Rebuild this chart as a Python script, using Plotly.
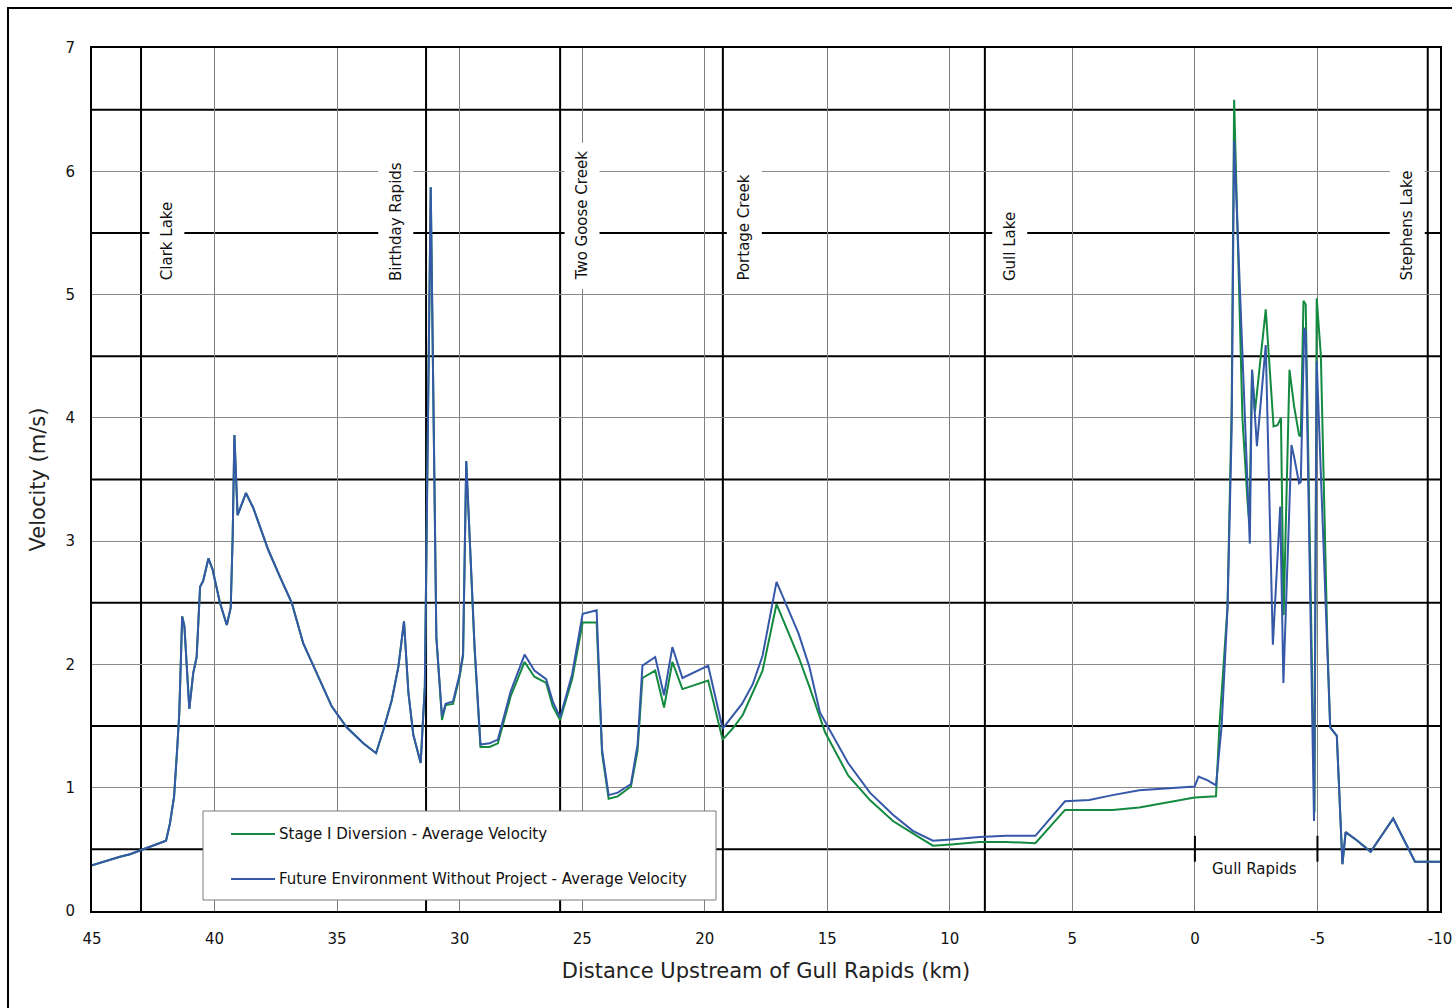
import plotly.graph_objects as go

# ---- Velocity profiles along the river (distance upstream of Gull Rapids, km) ----
future_km = [45.0, 44.4, 43.86, 43.45, 42.9, 41.98, 41.82, 41.65, 41.52, 41.44,
             41.32, 41.23, 41.03, 40.87, 40.73, 40.59, 40.46, 40.25, 40.08, 39.78,
             39.5, 39.34, 39.26, 39.19, 39.06, 38.72, 38.42, 38.15, 37.81, 37.33,
             36.85, 36.38, 35.83, 35.22, 34.61, 33.93, 33.41, 33.11, 32.77, 32.5,
             32.27, 32.09, 31.89, 31.59, 31.42, 31.18, 30.95, 30.72, 30.57, 30.27,
             30.0, 29.86, 29.73, 29.39, 29.15, 28.78, 28.44, 27.92, 27.35, 26.95,
             26.47, 26.2, 25.9, 25.41, 24.98, 24.41, 24.19, 23.92, 23.55, 23.01,
             22.74, 22.54, 22.02, 21.66, 21.32, 20.91, 19.86, 19.27, 18.48, 18.04,
             17.64, 17.07, 16.17, 15.73, 15.3, 14.15, 13.26, 12.32, 11.51, 10.69,
             9.95, 8.79, 7.70, 6.51, 5.30, 4.31, 3.36, 2.27, 0.01, -0.15,
             -0.52, -0.86, -1.09, -1.33, -1.50, -1.60, -2.24, -2.33, -2.53, -2.89,
             -3.18, -3.48, -3.61, -3.94, -4.05, -4.25, -4.32, -4.46, -4.52, -4.86,
             -4.97, -5.52, -5.79, -6.02, -6.15, -6.63, -7.17, -8.09, -8.98, -10.0]
future_vel = [0.37, 0.41, 0.44, 0.46, 0.50, 0.57, 0.71, 0.93, 1.33, 1.60,
              2.39, 2.31, 1.64, 1.93, 2.06, 2.63, 2.68, 2.86, 2.77, 2.50,
              2.32, 2.46, 3.04, 3.86, 3.21, 3.39, 3.27, 3.12, 2.93, 2.71,
              2.50, 2.17, 1.93, 1.66, 1.49, 1.36, 1.28, 1.47, 1.71, 1.98,
              2.35, 1.77, 1.43, 1.20, 1.82, 5.87, 2.22, 1.58, 1.68, 1.70,
              1.92, 2.09, 3.65, 2.15, 1.35, 1.36, 1.39, 1.78, 2.08, 1.95,
              1.88, 1.70, 1.57, 1.92, 2.41, 2.44, 1.31, 0.94, 0.96, 1.03,
              1.35, 1.99, 2.06, 1.75, 2.14, 1.89, 1.99, 1.48, 1.68, 1.84,
              2.07, 2.67, 2.25, 1.98, 1.61, 1.20, 0.96, 0.78, 0.65, 0.57,
              0.58, 0.60, 0.61, 0.61, 0.89, 0.90, 0.94, 0.98, 1.01, 1.09,
              1.06, 1.02, 1.50, 2.45, 3.90, 6.25, 2.98, 4.39, 3.77, 4.59,
              2.16, 3.28, 1.85, 3.78, 3.68, 3.47, 3.48, 4.73, 4.70, 0.73,
              4.46, 1.49, 1.42, 0.38, 0.64, 0.57, 0.48, 0.75, 0.40, 0.40]

stage1_km = [45.0, 44.4, 43.86, 43.45, 42.9, 41.98, 41.82, 41.65, 41.52, 41.44,
             41.32, 41.23, 41.03, 40.87, 40.73, 40.59, 40.46, 40.25, 40.08, 39.78,
             39.5, 39.34, 39.26, 39.19, 39.06, 38.72, 38.42, 38.15, 37.81, 37.33,
             36.85, 36.38, 35.83, 35.22, 34.61, 33.93, 33.41, 33.11, 32.77, 32.5,
             32.27, 32.09, 31.89, 31.59, 31.42, 31.18, 30.95, 30.72, 30.57, 30.27,
             30.0, 29.86, 29.73, 29.39, 29.15, 28.78, 28.44, 27.92, 27.35, 26.95,
             26.47, 26.2, 25.9, 25.41, 24.98, 24.41, 24.19, 23.92, 23.55, 23.01,
             22.74, 22.54, 22.02, 21.66, 21.32, 20.91, 19.86, 19.27, 18.86, 18.45,
             17.64, 17.07, 16.17, 15.73, 15.09, 14.15, 13.26, 12.32, 11.51, 10.69,
             9.95, 8.79, 7.70, 6.51, 5.30, 4.31, 3.36, 2.27, 0.01, -0.86,
             -1.0, -1.33, -1.50, -1.60, -1.94, -2.15, -2.22, -2.33, -2.45, -2.89,
             -3.10, -3.21, -3.37, -3.51, -3.62, -3.86, -4.05, -4.25, -4.32, -4.43,
             -4.52, -4.88, -4.97, -5.14, -5.41, -5.52, -5.79, -6.02, -6.15, -6.63,
             -7.17, -8.09, -8.98, -10.0]
stage1_vel = [0.37, 0.41, 0.44, 0.46, 0.50, 0.57, 0.71, 0.93, 1.33, 1.60,
              2.39, 2.31, 1.64, 1.93, 2.06, 2.63, 2.68, 2.86, 2.77, 2.50,
              2.32, 2.46, 3.04, 3.86, 3.21, 3.39, 3.27, 3.12, 2.93, 2.71,
              2.50, 2.17, 1.93, 1.66, 1.49, 1.36, 1.28, 1.47, 1.71, 1.98,
              2.35, 1.77, 1.43, 1.20, 1.82, 5.87, 2.22, 1.55, 1.67, 1.68,
              1.90, 2.07, 3.65, 2.12, 1.33, 1.33, 1.36, 1.74, 2.02, 1.90,
              1.85, 1.66, 1.55, 1.88, 2.34, 2.34, 1.28, 0.91, 0.93, 1.01,
              1.30, 1.89, 1.95, 1.65, 2.02, 1.80, 1.87, 1.39, 1.48, 1.59,
              1.95, 2.49, 2.06, 1.82, 1.45, 1.10, 0.90, 0.73, 0.63, 0.53,
              0.54, 0.56, 0.56, 0.55, 0.82, 0.82, 0.82, 0.84, 0.92, 0.93,
              1.50, 2.47, 4.10, 6.58, 3.99, 3.31, 3.15, 4.39, 4.05, 4.88,
              4.23, 3.93, 3.94, 4.00, 2.40, 4.39, 4.09, 3.86, 3.85, 4.95,
              4.92, 0.80, 4.97, 4.50, 2.14, 1.49, 1.42, 0.38, 0.64, 0.57,
              0.48, 0.75, 0.40, 0.40]

# Landmarks along the reach: vertical marker position and label position
landmark_names = ["Clark Lake", "Birthday Rapids", "Two Goose Creek",
                  "Portage Creek", "Gull Lake", "Stephens Lake"]
landmark_km = [43.0, 31.37, 25.9, 19.26, 8.57, -9.5]
landmark_label_km = [41.96, 32.6, 25.0, 18.4, 7.55, -8.65]

x_ticks = [45, 40, 35, 30, 25, 20, 15, 10, 5, 0, -5, -10]
y_ticks = [0, 1, 2, 3, 4, 5, 6, 7]

GREEN = "#138a3f"
BLUE = "#3558a8"
FONT = "DejaVu Sans"
TXT = "#111"

# plot-area geometry (pixels) used to place the hand-built legend box
L, R, T, B = 92, 1440, 48, 911


def px_x(px):
    return (px - L) / (R - L)


def px_y(py):
    return (B - py) / (B - T)


fig = go.Figure()
fig.add_trace(go.Scatter(x=stage1_km, y=stage1_vel, mode="lines",
                         line=dict(color=GREEN, width=2),
                         name="Stage I Diversion - Average Velocity"))
fig.add_trace(go.Scatter(x=future_km, y=future_vel, mode="lines",
                         line=dict(color=BLUE, width=2),
                         name="Future Environment Without Project - Average Velocity"))

shapes = []
# heavy half-unit gridlines
for v in [0.5, 1.5, 2.5, 3.5, 4.5, 5.5, 6.5]:
    shapes.append(dict(type="line", xref="paper", yref="y", x0=0, x1=1, y0=v, y1=v,
                       line=dict(color="black", width=2), layer="below"))
# landmark verticals
for k in landmark_km:
    shapes.append(dict(type="line", xref="x", yref="paper", x0=k, x1=k, y0=0, y1=1,
                       line=dict(color="black", width=2), layer="below"))
# Gull Rapids extent markers
for k in [0, -5]:
    shapes.append(dict(type="line", xref="x", yref="y", x0=k, x1=k, y0=0.40, y1=0.61,
                       line=dict(color="black", width=2), layer="above"))
# outer frame of the figure
shapes.append(dict(type="rect", xref="paper", yref="paper",
                   x0=px_x(8), x1=px_x(1470), y0=px_y(1030), y1=px_y(8),
                   line=dict(color="black", width=2), fillcolor="rgba(0,0,0,0)",
                   layer="above"))
# legend box and samples
shapes.append(dict(type="rect", xref="paper", yref="paper",
                   x0=px_x(203), x1=px_x(716), y0=px_y(900), y1=px_y(811),
                   line=dict(color="#7a7a7a", width=1), fillcolor="white", layer="above"))
for py, col in [(834, GREEN), (879, BLUE)]:
    shapes.append(dict(type="line", xref="paper", yref="paper",
                       x0=px_x(231), x1=px_x(275), y0=px_y(py), y1=px_y(py),
                       line=dict(color=col, width=2), layer="above"))

annotations = []
for name, k in zip(landmark_names, landmark_label_km):
    annotations.append(dict(x=k, y=5.04, xref="x", yref="y", text=name,
                            textangle=-90, showarrow=False, xanchor="center",
                            yanchor="bottom", bgcolor="white", borderpad=8,
                            font=dict(family=FONT, size=15, color=TXT)))
annotations.append(dict(x=-2.45, y=0.34, xref="x", yref="y", text="Gull Rapids",
                        showarrow=False, xanchor="center", yanchor="middle",
                        font=dict(family=FONT, size=15, color=TXT)))
for py, txt in [(834, "Stage I Diversion - Average Velocity"),
                (879, "Future Environment Without Project - Average Velocity")]:
    annotations.append(dict(x=px_x(277), y=px_y(py), xref="paper", yref="paper",
                            text=txt, showarrow=False, xanchor="left", yanchor="middle",
                            font=dict(family=FONT, size=15, color=TXT)))

fig.update_layout(
    width=1452, height=1008,
    margin=dict(l=L, r=1452 - R, t=T, b=1008 - B, autoexpand=False),
    paper_bgcolor="white", plot_bgcolor="white",
    showlegend=False,
    font=dict(family=FONT, size=15, color=TXT),
    shapes=shapes, annotations=annotations,
)
fig.update_xaxes(
    range=[45, -10], tickvals=x_ticks, ticktext=[str(t) for t in x_ticks],
    showgrid=True, gridcolor="#808080", gridwidth=1, zeroline=False,
    showline=True, linecolor="black", linewidth=2, mirror=True,
    ticks="", ticklabelstandoff=13, tickfont=dict(size=15),
    ticklabeloverflow="allow",
    title=dict(text="Distance Upstream of Gull Rapids (km)",
               font=dict(size=21, color="#222"), standoff=16),
    automargin=False,
)
fig.update_yaxes(
    range=[0, 7], tickvals=y_ticks,
    showgrid=True, gridcolor="#8a8a8a", gridwidth=1, zeroline=False,
    showline=True, linecolor="black", linewidth=2, mirror=True,
    ticks="", ticklabelstandoff=12, tickfont=dict(size=15),
    title=dict(text="Velocity (m/s)", font=dict(size=21, color="#222"), standoff=14),
    automargin=False,
)

fig.write_html("out.html")
